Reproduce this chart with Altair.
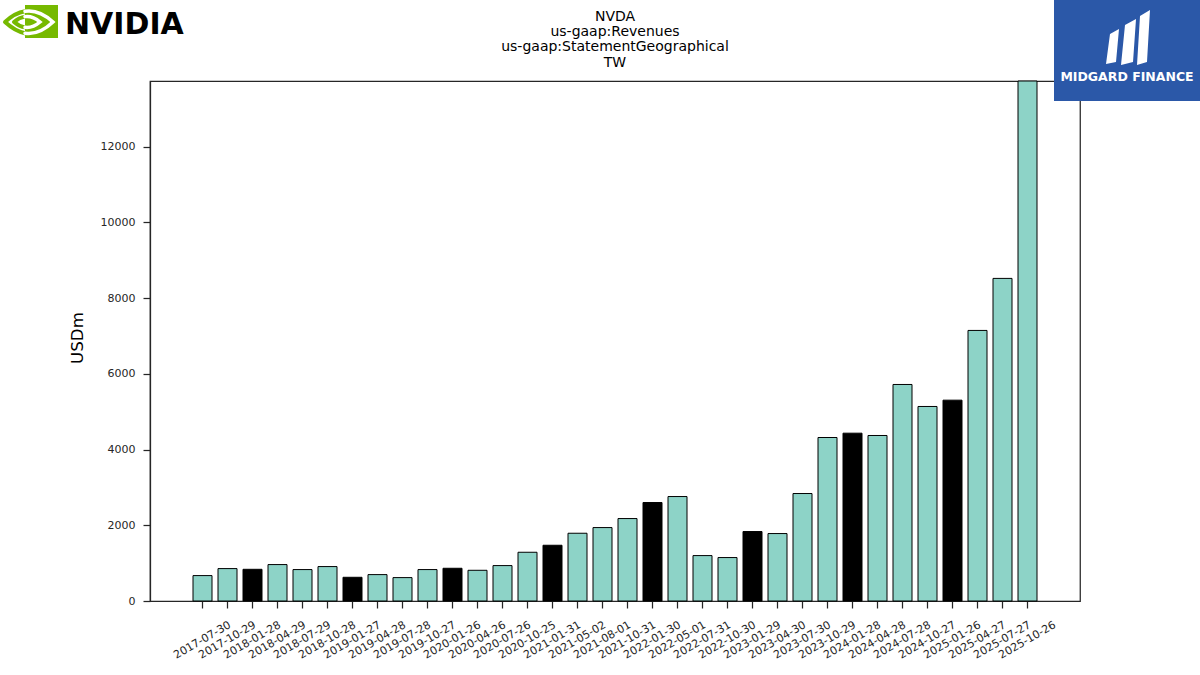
import altair as alt
import pandas as pd

# Quarterly revenue attributed to Taiwan (USD millions), by fiscal quarter end
periods = [
    "2017-07-30", "2017-10-29", "2018-01-28", "2018-04-29", "2018-07-29",
    "2018-10-28", "2019-01-27", "2019-04-28", "2019-07-28", "2019-10-27",
    "2020-01-26", "2020-04-26", "2020-07-26", "2020-10-25", "2021-01-31",
    "2021-05-02", "2021-08-01", "2021-10-31", "2022-01-30", "2022-05-01",
    "2022-07-31", "2022-10-30", "2023-01-29", "2023-04-30", "2023-07-30",
    "2023-10-29", "2024-01-28", "2024-04-28", "2024-07-28", "2024-10-27",
    "2025-01-26", "2025-04-27", "2025-07-27", "2025-10-26",
]
revenue_usdm = [
    671, 856, 837, 962, 830,
    909, 626, 697, 618, 830,
    864, 811, 935, 1287, 1472,
    1789, 1939, 2177, 2600, 2758,
    1199, 1147, 1834, 1781, 2838,
    4317, 4431, 4370, 5717, 5136,
    5303, 7144, 8518, 13730,
]
y_ticks = [0, 2000, 4000, 6000, 8000, 10000, 12000]
title_lines = ["NVDA", "us-gaap:Revenues", "us-gaap:StatementGeographical", "TW"]

TEAL = "#8dd3c7"
INK = "#262626"
NV_GREEN = "#76b900"
MIDGARD_BLUE = "#2b58a8"

W, H = 930, 520
LEFT, TOP = 150, 81

# Fiscal-year-end quarters (January) are drawn in black
kind = ["fy_end" if p[5:7] == "01" else "quarter" for p in periods]
df = pd.DataFrame({"period": periods, "usdm": revenue_usdm, "kind": kind})
one = pd.DataFrame({"k": [0]})

bars = alt.Chart(df).mark_bar(stroke="black", strokeWidth=1).encode(
    x=alt.X(
        "period:N",
        sort=periods,
        scale=alt.Scale(paddingInner=0.24, paddingOuter=0.5, range=[30.5, 899.5]),
        axis=alt.Axis(
            title=None,
            labelAngle=330,
            labelAlign="center",
            labelBaseline="middle",
            labelPadding=32,
            tickSize=7,
            labelFontSize=11,
            domain=False,
        ),
    ),
    y=alt.Y(
        "usdm:Q",
        scale=alt.Scale(domain=[0, 13730], nice=False, zero=True),
        axis=alt.Axis(
            title="USDm",
            values=y_ticks,
            format="d",
            tickSize=7,
            labelPadding=8,
            labelFontSize=11,
            titleFontSize=16.7,
            titleFontWeight="normal",
            titleAngle=270,
            titleAlign="center",
            titleBaseline="middle",
            titleX=77.5 - LEFT,
            titleY=337.5 - TOP,
        ),
    ),
    color=alt.Color(
        "kind:N",
        scale=alt.Scale(domain=["fy_end", "quarter"], range=["#000000", TEAL]),
        legend=None,
    ),
)

title = alt.Chart(one).mark_text(
    text=title_lines,
    fontSize=14,
    lineHeight=15.3,
    align="center",
    baseline="alphabetic",
    color="#000000",
    font="DejaVu Sans",
).encode(x=alt.value(615 - LEFT), y=alt.value(20.7 - TOP))

# NVIDIA mark: green square with a stylised eye
eye_outer_left = (
    "M-0.981,0.019Q-0.611,-0.321,-0.241,-0.377"
    "M-0.981,0.019Q-0.611,0.358,-0.241,0.433"
    "M-0.648,0.019Q-0.444,-0.154,-0.241,-0.180"
    "M-0.648,0.019Q-0.444,0.191,-0.241,0.217"
)
eye_inner_right = (
    "M-0.241,-0.377Q0.278,-0.457,0.796,0.019Q0.278,0.512,-0.241,0.433"
    "M-0.241,-0.180Q0.037,-0.217,0.315,0.019Q0.037,0.254,-0.241,0.217"
)
# square drawn as one wide butt-capped stroke
nv_square = alt.Chart(one).mark_rule(
    color=NV_GREEN, strokeWidth=33, strokeCap="butt", opacity=1,
).encode(
    x=alt.value(25 - LEFT), x2=alt.value(58 - LEFT), y=alt.value(21.5 - TOP),
)
eye_green = alt.Chart(one).mark_point(
    shape=eye_outer_left, size=2916, filled=False, stroke=NV_GREEN,
    strokeWidth=4, strokeCap="round", opacity=1,
).encode(x=alt.value(31.5 - LEFT), y=alt.value(21.5 - TOP))
eye_white = alt.Chart(one).mark_point(
    shape=eye_inner_right, size=2916, filled=False, stroke="white",
    strokeWidth=3.5, strokeCap="round", opacity=1,
).encode(x=alt.value(31.5 - LEFT), y=alt.value(21.5 - TOP))
nv_text = alt.Chart(one).mark_text(
    text="NVIDIA", font="DejaVu Sans", fontWeight="bold", fontSize=30,
    align="left", baseline="alphabetic", color="#000000",
).encode(x=alt.value(65 - LEFT), y=alt.value(34 - TOP))

# Midgard Finance badge
mg_box = alt.Chart(one).mark_rect(color=MIDGARD_BLUE).encode(
    x=alt.value(1054 - LEFT), x2=alt.value(1200 - LEFT),
    y=alt.value(0 - TOP), y2=alt.value(101 - TOP),
)
mg_icon_path = (
    "M-0.733,0.883L-0.4,0.817L-0.3,-0.283L-0.6,-0.117Z"
    "M-0.233,0.917L0.167,0.817L0.267,-0.617L-0.1,-0.417Z"
    "M0.3,0.917L0.633,0.817L0.733,-0.917L0.4,-0.717Z"
)
mg_icon = alt.Chart(one).mark_point(
    shape=mg_icon_path, size=3600, filled=True, fill="white",
    strokeWidth=0, opacity=1,
).encode(x=alt.value(1128 - LEFT), y=alt.value(37.5 - TOP))
mg_text = alt.Chart(one).mark_text(
    text="MIDGARD FINANCE", font="DejaVu Sans", fontWeight="bold",
    fontSize=12.5, align="center", baseline="alphabetic", color="white",
).encode(x=alt.value(1127 - LEFT), y=alt.value(81 - TOP))

chart = alt.layer(
    bars, title, eye_green, nv_square, eye_white, nv_text, mg_box, mg_icon, mg_text
).properties(
    width=W,
    height=H,
    autosize=alt.AutoSizeParams(type="none"),
    padding={"left": LEFT, "top": TOP, "right": 1200 - LEFT - W, "bottom": 675 - TOP - H},
    background="white",
).configure(
    font="DejaVu Sans",
).configure_view(
    stroke=INK, strokeWidth=1.25,
).configure_axis(
    grid=False,
    domainColor=INK, domainWidth=1.25,
    tickColor=INK, tickWidth=1.25,
    labelColor=INK, titleColor="#000000",
    labelFont="DejaVu Sans", titleFont="DejaVu Sans",
)

chart.save("out.html", embed_options={"renderer": "svg", "actions": False})
